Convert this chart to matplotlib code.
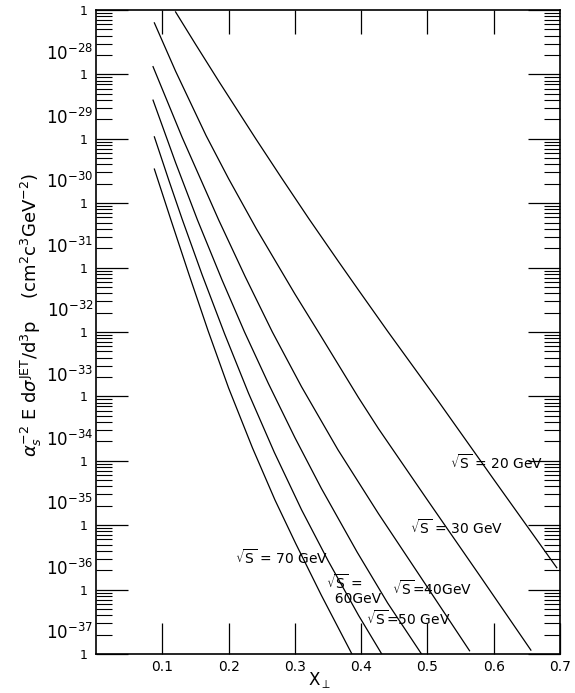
import numpy as np
import matplotlib
matplotlib.use('Agg')
import matplotlib.pyplot as plt
import matplotlib.ticker as ticker

# 曲线数据: x_perp 与 log10(截面)
x_20 = [0.120, 0.150, 0.186, 0.241, 0.280, 0.321, 0.366, 0.396, 0.440, 0.516, 0.600, 0.695]
ly_20 = [-27.03, -27.53, -28.12, -29.00, -29.61, -30.24, -30.91, -31.35, -31.99, -33.07, -34.29, -35.66]

x_30 = [0.088, 0.120, 0.166, 0.200, 0.242, 0.300, 0.339, 0.396, 0.426, 0.500, 0.580, 0.656]
ly_30 = [-27.20, -27.95, -28.95, -29.62, -30.40, -31.41, -32.06, -33.02, -33.50, -34.61, -35.80, -36.94]

x_40 = [0.086, 0.130, 0.185, 0.225, 0.266, 0.310, 0.365, 0.426, 0.490, 0.5635]
ly_40 = [-27.88, -28.98, -30.26, -31.14, -32.00, -32.85, -33.83, -34.82, -35.81, -36.95]

x_50 = [0.086, 0.120, 0.153, 0.190, 0.224, 0.260, 0.300, 0.340, 0.394, 0.440, 0.491]
ly_50 = [-28.40, -29.37, -30.26, -31.19, -32.00, -32.80, -33.64, -34.43, -35.42, -36.21, -37.00]

x_60 = [0.088, 0.110, 0.130, 0.160, 0.194, 0.230, 0.269, 0.310, 0.350, 0.396, 0.431]
ly_60 = [-28.97, -29.65, -30.25, -31.11, -32.03, -32.95, -33.87, -34.76, -35.55, -36.40, -37.00]

x_70 = [0.088, 0.113, 0.140, 0.169, 0.200, 0.236, 0.270, 0.301, 0.340, 0.386]
ly_70 = [-29.47, -30.26, -31.10, -31.98, -32.87, -33.80, -34.61, -35.28, -36.09, -37.00]

curves = [(x_20, ly_20), (x_30, ly_30), (x_40, ly_40),
          (x_50, ly_50), (x_60, ly_60), (x_70, ly_70)]

x_ticks = [0.1, 0.2, 0.3, 0.4, 0.5, 0.6, 0.7]
decades = list(range(-28, -38, -1))

fig = plt.figure(figsize=(5.75, 6.93), dpi=100)
ax = fig.add_axes([0.167, 0.0563, 0.807, 0.9293])

for xs, lys in curves:
    ax.plot(xs, 10.0 ** np.array(lys), color='black', linewidth=0.9)

ax.set_yscale('log')
ax.set_xlim(0, 0.7)
ax.set_ylim(1e-37, 1e-27)

# y 轴刻度: 每个十倍程标 "1"
major_y = [10.0 ** k for k in range(-37, -26)]
minor_y = [m * 10.0 ** k for k in range(-37, -27) for m in range(2, 10)]
ax.yaxis.set_major_locator(ticker.FixedLocator(major_y))
ax.yaxis.set_minor_locator(ticker.FixedLocator(minor_y))
ax.yaxis.set_major_formatter(ticker.FixedFormatter(['1'] * len(major_y)))
ax.yaxis.set_minor_formatter(ticker.NullFormatter())
ax.tick_params(axis='y', which='major', direction='in', length=23, width=0.9,
               left=True, right=True, labelsize=9, pad=6)
ax.tick_params(axis='y', which='minor', direction='in', length=11.5, width=0.8,
               left=True, right=True)

# x 轴刻度
ax.set_xticks(x_ticks)
ax.set_xticklabels([str(t) for t in x_ticks])
ax.tick_params(axis='x', which='major', direction='in', length=22, width=0.9,
               bottom=True, top=False, labelsize=10, pad=4)
sec = ax.secondary_xaxis('top')
sec.set_xticks(x_ticks[:-1])
sec.tick_params(direction='in', length=17, width=0.9, labeltop=False)
sec.spines['top'].set_visible(False)

for s in ax.spines.values():
    s.set_linewidth(1.2)

# 十倍程标签 10^-N
for n in decades:
    ax.text(-0.006, 1.7 * 10.0 ** n, r'$10^{%d}$' % n, transform=ax.get_yaxis_transform(),
            ha='right', va='baseline', fontsize=12)

# 曲线标注
ax.text(0.534, 9.3e-35, r'$\sqrt{\mathrm{S}}$ = 20 GeV', ha='left', va='center', fontsize=10)
ax.text(0.474, 9.3e-36, r'$\sqrt{\mathrm{S}}$ = 30 GeV', ha='left', va='center', fontsize=10)
ax.text(0.446, 1.05e-36, r'$\sqrt{\mathrm{S}}$=40GeV', ha='left', va='center', fontsize=10)
ax.text(0.408, 3.6e-37, r'$\sqrt{\mathrm{S}}$=50 GeV', ha='left', va='center', fontsize=10)
ax.text(0.347, 1.0e-36, '$\\sqrt{\\mathrm{S}}$ =\n  60GeV', ha='left', va='center',
        fontsize=10, linespacing=1.0)
ax.text(0.209, 3.1e-36, r'$\sqrt{\mathrm{S}}$ = 70 GeV', ha='left', va='center', fontsize=10)

# 坐标轴标题
fig.text(320 / 575, 1 - 680 / 693, r'X$_\perp$', ha='center', va='center', fontsize=12)
fig.text(31 / 575, 1 - 315 / 693,
         r'$\alpha_s^{-2}$ E d$\sigma^{\mathrm{JET}}$/d$^3$p    (cm$^2$c$^3$GeV$^{-2}$)',
         rotation=90, ha='center', va='center', fontsize=13)

fig.savefig('out.png', dpi=100)
